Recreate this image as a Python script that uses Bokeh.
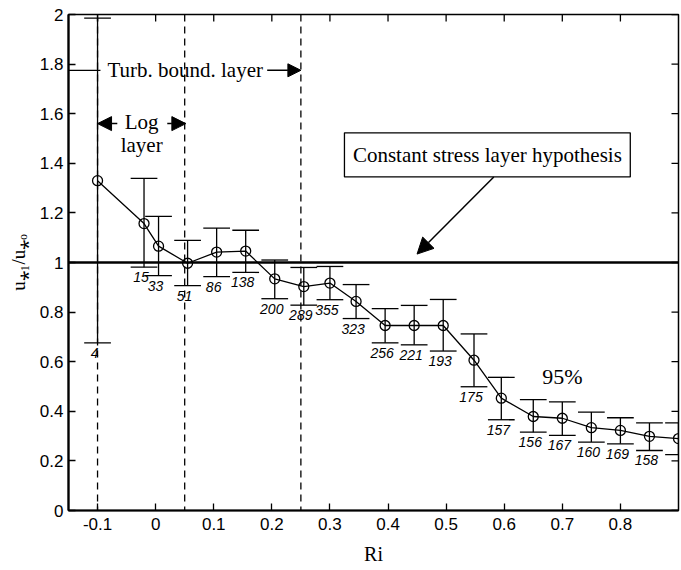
import numpy as np
from bokeh.plotting import figure
from bokeh.models import (Range1d, FixedTicker, NumeralTickFormatter, Arrow,
                          NormalHead, Label, ColumnDataSource, Span, BoxAnnotation)
from bokeh.core.properties import value
from bokeh.embed import file_html
from bokeh.resources import INLINE

# ---- data ----
ri = [-0.1, -0.02, 0.005, 0.055, 0.105, 0.155, 0.205, 0.255, 0.30, 0.345, 0.395,
      0.445, 0.495, 0.548, 0.595, 0.65, 0.70, 0.75, 0.80, 0.85, 0.90]
ratio = [1.33, 1.157, 1.066, 0.997, 1.042, 1.046, 0.934, 0.903, 0.917, 0.843, 0.746,
         0.746, 0.746, 0.606, 0.453, 0.379, 0.372, 0.334, 0.323, 0.299, 0.29]
upper = [1.985, 1.339, 1.186, 1.089, 1.139, 1.13, 1.01, 0.98, 0.984, 0.911, 0.814,
         0.827, 0.851, 0.712, 0.537, 0.447, 0.438, 0.397, 0.374, 0.353, 0.353]
lower = [0.676, 0.981, 0.947, 0.907, 0.943, 0.96, 0.854, 0.828, 0.85, 0.774, 0.676,
         0.668, 0.643, 0.499, 0.366, 0.316, 0.303, 0.276, 0.269, 0.242, 0.225]
counts = ["4", "15", "33", "51", "86", "138", "200", "289", "355", "323", "256",
          "221", "193", "175", "157", "156", "167", "160", "169", "158"]
layer_bounds = [-0.1, 0.05, 0.25]
x_ticks = [-0.1, 0, 0.1, 0.2, 0.3, 0.4, 0.5, 0.6, 0.7, 0.8]
y_ticks = [0, 0.2, 0.4, 0.6, 0.8, 1, 1.2, 1.4, 1.6, 1.8, 2]
X_LIM = (-0.15, 0.9)
Y_LIM = (0, 2)

CAP_HALF = 0.023
SERIF = "Liberation Serif"
SANS = "Liberation Sans"

src = ColumnDataSource(dict(
    ri=ri, ratio=ratio, upper=upper, lower=lower,
    cap_l=list(np.array(ri) - CAP_HALF), cap_r=list(np.array(ri) + CAP_HALF),
))
n_lab = len(counts)
lab_src = ColumnDataSource(dict(ri=ri[:n_lab], lower=lower[:n_lab], counts=counts))

p = figure(width=681, height=570, x_range=Range1d(*X_LIM), y_range=Range1d(*Y_LIM),
           output_backend="svg", toolbar_location=None,
           min_border_left=68, min_border_right=3, min_border_top=14, min_border_bottom=60)
p.background_fill_color = "white"
p.border_fill_color = "white"
p.outline_line_color = "black"
p.outline_line_width = 1.5
p.xgrid.visible = False
p.ygrid.visible = False

for ax in (p.xaxis[0], p.yaxis[0]):
    ax.major_tick_in = 7
    ax.major_tick_out = 0
    ax.minor_tick_line_color = None
    ax.axis_line_width = 2.2
    ax.major_tick_line_width = 1.3
    ax.major_label_text_font = SANS
    ax.major_label_text_font_size = "17px"
    ax.major_label_text_color = "black"
    ax.axis_label_text_font = SERIF
    ax.axis_label_text_font_style = "normal"
    ax.axis_label_text_color = "black"
    ax.formatter = NumeralTickFormatter(format="0.[0]")

p.xaxis[0].ticker = FixedTicker(ticks=x_ticks)
p.yaxis[0].ticker = FixedTicker(ticks=y_ticks)
p.xaxis[0].axis_label = "Ri"
p.xaxis[0].axis_label_text_font_size = "20px"
p.xaxis[0].major_label_standoff = 7
p.xaxis[0].axis_label_standoff = 10
p.yaxis[0].axis_label = "u⁎₁/u⁎ₒ"
p.yaxis[0].axis_label_text_font_size = "19px"
p.yaxis[0].major_label_standoff = 5
p.yaxis[0].axis_label_standoff = 8

# mirrored inward ticks on the top and right frame edges
p.scatter(x=x_ticks, y=[Y_LIM[1]] * len(x_ticks), marker="dash", angle=np.pi / 2,
          size=14, line_color="black", line_width=1.3)
p.scatter(x=[X_LIM[1]] * len(y_ticks), y=y_ticks, marker="dash",
          size=14, line_color="black", line_width=1.3)

# reference lines
for b in layer_bounds:
    p.add_layout(Span(location=b, dimension="height", line_color="black",
                      line_width=1.3, line_dash="7 5"))
p.add_layout(Span(location=1, dimension="width", line_color="black", line_width=2.5))

# error bars
p.segment(x0="ri", y0="lower", x1="ri", y1="upper", source=src, line_color="black", line_width=1.3)
p.segment(x0="cap_l", y0="upper", x1="cap_r", y1="upper", source=src, line_color="black", line_width=1.3)
p.segment(x0="cap_l", y0="lower", x1="cap_r", y1="lower", source=src, line_color="black", line_width=1.3)

# data line and markers
p.line(x="ri", y="ratio", source=src, line_color="black", line_width=1.3)
p.scatter(x="ri", y="ratio", source=src, marker="circle", size=10, fill_color=None,
          line_color="black", line_width=1.3)

# sample counts
p.text(x="ri", y="lower", text="counts", source=lab_src, text_font=value(SANS),
       text_font_style="italic", text_font_size="14px", text_align="center",
       text_baseline="top", x_offset=-3, y_offset=5, text_color="black")

# annotations
p.segment(x0=[X_LIM[0]], y0=[1.775], x1=[-0.095], y1=[1.775], line_color="black", line_width=1.3)
p.add_layout(Label(x=-0.083, y=1.775, text="Turb. bound. layer", text_font=SERIF,
                   text_font_size="21px", text_baseline="middle", text_align="left",
                   text_color="black"))
p.add_layout(Arrow(x_start=0.192, y_start=1.775, x_end=0.25, y_end=1.775, line_width=1.5,
                   end=NormalHead(size=13, fill_color="black", line_color="black")))

p.add_layout(Label(x=-0.024, y=1.565, text="Log", text_font=SERIF, text_font_size="21px",
                   text_baseline="middle", text_align="center", text_color="black"))
p.add_layout(Label(x=-0.024, y=1.472, text="layer", text_font=SERIF, text_font_size="21px",
                   text_baseline="middle", text_align="center", text_color="black"))
p.add_layout(Arrow(x_start=-0.066, y_start=1.56, x_end=-0.1, y_end=1.56, line_width=1.5,
                   end=NormalHead(size=14, fill_color="black", line_color="black")))
p.add_layout(Arrow(x_start=0.02, y_start=1.56, x_end=0.052, y_end=1.56, line_width=1.5,
                   end=NormalHead(size=14, fill_color="black", line_color="black")))

p.add_layout(BoxAnnotation(left=0.325, right=0.817, bottom=1.345, top=1.523,
                           fill_color="white", fill_alpha=1, line_color="black",
                           line_width=1.3, line_alpha=1))
p.add_layout(Label(x=0.571, y=1.434, text="Constant stress layer hypothesis", text_font=SERIF,
                   text_font_size="21px", text_baseline="middle", text_align="center",
                   text_color="black"))
p.add_layout(Arrow(x_start=0.582, y_start=1.345, x_end=0.45, y_end=1.034, line_width=1.5,
                   end=NormalHead(size=16, fill_color="black", line_color="black")))

p.add_layout(Label(x=0.70, y=0.539, text="95%", text_font=SERIF, text_font_size="22px",
                   text_baseline="middle", text_align="center", text_color="black"))

open("out.html", "w").write(file_html(p, INLINE))
